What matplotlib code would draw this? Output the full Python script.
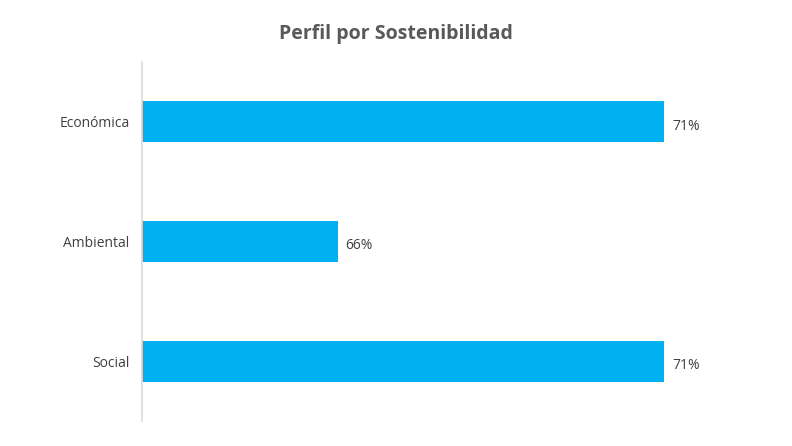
import matplotlib.pyplot as plt

# datos
categorias = ['Económica', 'Ambiental', 'Social']
valores = [71, 66, 71]
etiquetas = ['71%', '66%', '71%']

plt.rcParams['font.family'] = ['Open Sans', 'DejaVu Sans']

fig = plt.figure(figsize=(7.92, 4.46), dpi=100)
ax = fig.add_axes([142/792, 1-421/446, (770-142)/792, (421-62)/446])

ypos = list(range(len(categorias)))
ax.barh(ypos, valores, height=0.345, color='#00B0F0', left=0)
ax.set_xlim(63, 72.62)
ax.set_ylim(2.5, -0.5)

for i in range(len(valores)):
    ax.text(valores[i] + 0.12, ypos[i] + 0.035, etiquetas[i], va='center',
            ha='left', fontsize=10, color='#404040')

ax.set_yticks(ypos)
ax.set_yticklabels(categorias, fontsize=10, color='#404040')
ax.tick_params(axis='y', length=0, pad=9)
ax.set_xticks([])
for s in ['top', 'right', 'bottom']:
    ax.spines[s].set_visible(False)
ax.spines['left'].set_color('#D9D9D9')
ax.spines['left'].set_linewidth(1.2)

fig.text(396/792, 1-34/446, 'Perfil por Sostenibilidad', ha='center', va='center',
         fontsize=14, fontweight='bold', color='#595959')

fig.savefig('out.png', dpi=100)
